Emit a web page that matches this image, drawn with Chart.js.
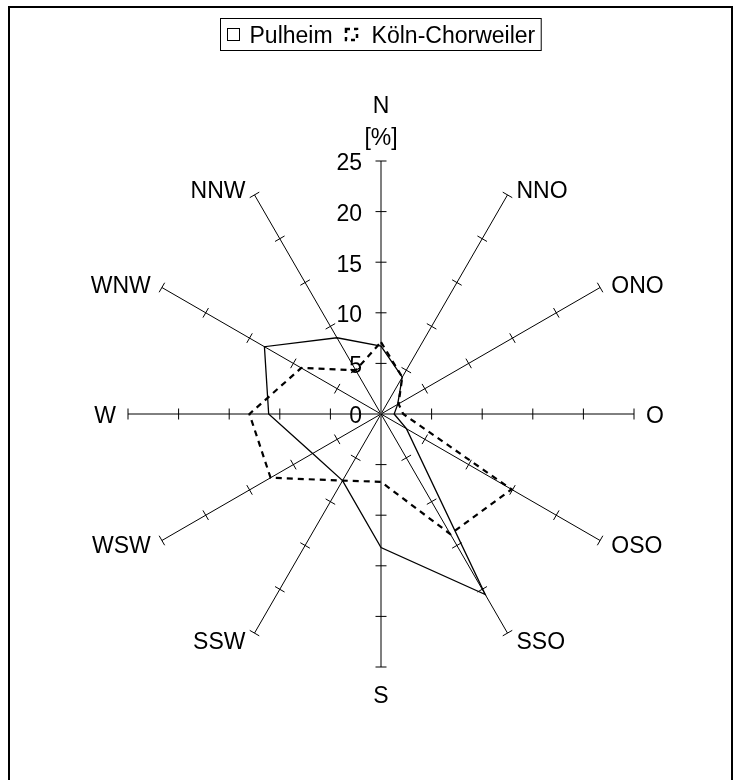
<!DOCTYPE html>
<html><head><meta charset="utf-8">
<script src="https://cdn.jsdelivr.net/npm/chart.js@4.4.1/dist/chart.umd.min.js"></script>
<style>html,body{margin:0;padding:0;background:#fff;} #wrap{position:relative;width:741px;height:780px;}</style>
</head><body><div id="wrap"><canvas id="c" width="741" height="780"></canvas></div>
<script>
// ---- data ----
const directions = ['N','NNO','ONO','O','OSO','SSO','S','SSW','WSW','W','WNW','NNW'];
const pulheim = [6.7, 4.2, 1.9, 1.3, 2.9, 20.6, 13.2, 7.6, 7.8, 11.1, 13.3, 8.7];
const koelnChorweiler = [7.1, 4.2, 2.0, 2.2, 14.9, 13.7, 6.7, 7.6, 12.6, 13.0, 9.1, 5.0];
const seriesNames = ['Pulheim', 'Köln-Chorweiler'];
const tickValues = [0, 5, 10, 15, 20, 25];
const unitLabel = '[%]';

const FONT = '23px "Liberation Sans", Arial, sans-serif';
const TEXT_DY = 3;

const decor = {
  id: 'decor',
  afterDraw(chart) {
    const ctx = chart.ctx;
    const r = chart.scales.r;
    const maxV = tickValues[tickValues.length - 1];
    ctx.save();
    // frame
    ctx.strokeStyle = '#000';
    ctx.lineWidth = 2;
    ctx.strokeRect(9, 7, 723, 900);

    // tick marks on every spoke
    ctx.lineWidth = 1;
    ctx.strokeStyle = '#000';
    for (let i = 0; i < directions.length; i++) {
      const a = r.getIndexAngle(i) - Math.PI / 2;
      const px = -Math.sin(a), py = Math.cos(a);
      tickValues.forEach(v => {
        if (v === 0) return;
        const p = r.getPointPositionForValue(i, v);
        ctx.beginPath();
        ctx.moveTo(p.x - px * 5.5, p.y - py * 5.5);
        ctx.lineTo(p.x + px * 5.5, p.y + py * 5.5);
        ctx.stroke();
      });
    }

    ctx.fillStyle = '#000';
    ctx.font = FONT;
    // tick labels on N axis
    ctx.textAlign = 'right';
    ctx.textBaseline = 'middle';
    tickValues.forEach(v => {
      const p = r.getPointPositionForValue(0, v);
      ctx.fillText(String(v), p.x - 19, p.y + TEXT_DY);
    });

    // direction labels
    for (let i = 0; i < directions.length; i++) {
      const end = r.getPointPositionForValue(i, maxV);
      const th = r.getIndexAngle(i);
      const s = Math.sin(th), c = Math.cos(th);
      if (i === 0) {
        ctx.textAlign = 'center';
        ctx.fillText(unitLabel, end.x, end.y - 25 + TEXT_DY);
        ctx.fillText(directions[i], end.x, end.y - 57 + TEXT_DY);
      } else if (Math.abs(s) < 1e-6) {
        ctx.textAlign = 'center';
        ctx.fillText(directions[i], end.x, end.y + 27 + TEXT_DY);
      } else {
        ctx.textAlign = s > 0 ? 'left' : 'right';
        const dx = (6 + 6 * Math.abs(s)) * Math.sign(s);
        const dy = -7 * c;
        ctx.fillText(directions[i], end.x + dx, end.y + dy + TEXT_DY);
      }
    }

    // legend
    const ds = chart.data.datasets;
    const sym = 13, gapSymText = 10, gapItems = 12, padX = 6;
    const w0 = ctx.measureText(ds[0].label).width;
    const w1 = ctx.measureText(ds[1].label).width;
    const contentW = sym + gapSymText + w0 + gapItems + sym + gapSymText + 4 + w1;
    const boxW = contentW + 2 * padX;
    const boxL = Math.round(380 - boxW / 2) + 0.5;
    const boxT = 18.5, boxH = 32;
    ctx.lineWidth = 1;
    ctx.setLineDash([]);
    ctx.strokeRect(boxL, boxT, boxW, boxH);
    const cy = boxT + boxH / 2;
    let x = boxL + padX;
    ctx.strokeRect(Math.round(x) + 0.5, Math.round(cy - sym / 2) + 0.5, sym - 1, sym - 1);
    x += sym + gapSymText;
    ctx.textAlign = 'left';
    ctx.textBaseline = 'middle';
    ctx.fillText(ds[0].label, x, cy + 2);
    x += w0 + gapItems;
    ctx.lineWidth = 2.5;
    ctx.setLineDash([4, 4]);
    ctx.strokeRect(Math.round(x) + 1, Math.round(cy - sym / 2) + 1, sym - 2, sym - 2);
    ctx.setLineDash([]);
    x += sym + gapSymText + 4;
    ctx.fillText(ds[1].label, x, cy + 2);
    ctx.restore();
  }
};

new Chart(document.getElementById('c'), {
  type: 'radar',
  data: {
    labels: directions,
    datasets: [
      { label: seriesNames[0], data: pulheim, borderColor: '#000', borderWidth: 1.3, fill: false, pointRadius: 0, tension: 0 },
      { label: seriesNames[1], data: koelnChorweiler, borderColor: '#000', borderWidth: 2.2, borderDash: [6, 5], fill: false, pointRadius: 0, tension: 0 }
    ]
  },
  options: {
    responsive: false,
    animation: false,
    devicePixelRatio: 1,
    layout: { padding: { left: 128, top: 161, right: 107, bottom: 113 } },
    plugins: { legend: { display: false }, tooltip: { enabled: false } },
    scales: {
      r: {
        min: 0, max: 25,
        startAngle: 0,
        ticks: { display: false, stepSize: 5 },
        grid: { display: false },
        angleLines: {
          display: true,
          color: ctx => (ctx.index % 6 === 0 ? '#555' : '#000'),
          lineWidth: ctx => (ctx.index % 6 === 0 ? 1.5 : 1)
        },
        pointLabels: { display: false }
      }
    }
  },
  plugins: [decor]
});
</script>
</body></html>
